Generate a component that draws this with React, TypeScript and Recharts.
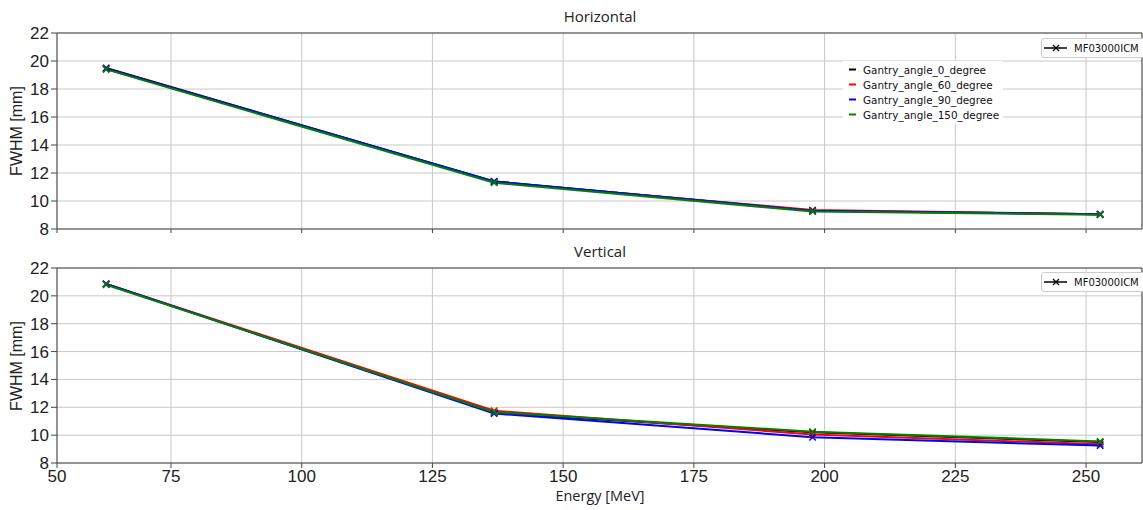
import React from 'react';
import { LineChart, Line, XAxis, YAxis, CartesianGrid, ReferenceArea } from 'recharts';

// beam energies (x) shared by all series
const energies = [62.6, 136.8, 197.7, 252.7];

const angleNames = ['Gantry_angle_0_degree', 'Gantry_angle_60_degree', 'Gantry_angle_90_degree', 'Gantry_angle_150_degree'];
const angleColors = ['#000000', '#ff0000', '#0000ff', '#008000'];

// Horizontal FWHM [mm]
const horizAngle0 = [19.5, 11.4, 9.3, 9.05];
const horizAngle60 = [19.45, 11.35, 9.36, 9.05];
const horizAngle90 = [19.45, 11.4, 9.3, 9.05];
const horizAngle150 = [19.4, 11.3, 9.25, 9.02];

// Vertical FWHM [mm]
const vertAngle0 = [20.85, 11.6, 10.2, 9.5];
const vertAngle60 = [20.85, 11.75, 10.05, 9.35];
const vertAngle90 = [20.85, 11.55, 9.85, 9.25];
const vertAngle150 = [20.8, 11.65, 10.25, 9.55];

const xMin = 53.2;
const xMax = 260.7;
const xTicks = [xMin, 75, 100, 125, 150, 175, 200, 225, 250];
const yTicks = [8, 10, 12, 14, 16, 18, 20, 22];

const keys = ['a0', 'a60', 'a90', 'a150'];

const buildRows = (series: number[][]) =>
  energies.map((e, i) => {
    const row: Record<string, number> = { energy: e };
    series.forEach((s, j) => (row[keys[j]] = s[i]));
    return row;
  });

const horizRows = buildRows([horizAngle0, horizAngle60, horizAngle90, horizAngle150]);
const vertRows = buildRows([vertAngle0, vertAngle60, vertAngle90, vertAngle150]);

const arial = 'Liberation Sans, Arial, sans-serif';
const tickFont = { fontFamily: arial, fontSize: 17, fill: '#222' };
const legendFont = "'DejaVu Sans', sans-serif";
const labelFont = "'Open Sans', sans-serif";

const crossDot = (color: string) => (props: any) => {
  const { cx, cy, index } = props;
  if (cx == null || cy == null) return <g key={`${color}-${index}`} />;
  const s = 3.2;
  return (
    <path
      key={`${color}-${index}`}
      d={`M${cx - s},${cy - s}L${cx + s},${cy + s}M${cx - s},${cy + s}L${cx + s},${cy - s}`}
      stroke={color}
      strokeWidth={1.5}
      fill="none"
    />
  );
};

const IcmLegend = ({ top }: { top: number }) => (
  <div
    style={{
      position: 'absolute', left: 1041, top, width: 110, height: 18,
      background: '#fff', border: '1px solid #ccc', borderRadius: 3,
      display: 'flex', alignItems: 'center', fontFamily: legendFont, fontSize: 10, color: '#111',
      whiteSpace: 'nowrap',
    }}
  >
    <svg width={32} height={18} style={{ flexShrink: 0 }}>
      <line x1={2} y1={9} x2={25} y2={9} stroke="#000" strokeWidth={1.5} />
      <path d="M11,6L17,12M11,12L17,6" stroke="#000" strokeWidth={1.3} />
    </svg>
    <span>MF03000ICM</span>
  </div>
);

const AngleLegend = () => (
  <div
    style={{
      position: 'absolute', left: 843, top: 61, width: 160, padding: '1px 0',
      background: '#fff', fontFamily: legendFont, fontSize: 10.4, color: '#111', whiteSpace: 'nowrap',
    }}
  >
    {angleNames.map((name, i) => (
      <div key={name} style={{ display: 'flex', alignItems: 'center', height: 15 }}>
        <svg width={20} height={15} style={{ flexShrink: 0 }}>
          <line x1={6} y1={7.5} x2={13} y2={7.5} stroke={angleColors[i]} strokeWidth={2} />
        </svg>
        <span>{name}</span>
      </div>
    ))}
  </div>
);

interface PanelProps {
  title: string;
  rows: Record<string, number>[];
  top: number;
  height: number;
  axisHeight: number;
  showXLabels: boolean;
  showAngles: boolean;
}

const Panel: React.FC<PanelProps> = ({ title, rows, top, height, axisHeight, showXLabels, showAngles }) => (
  <div style={{ position: 'absolute', left: 0, top, width: 1143, height }}>
    <div
      style={{
        position: 'absolute', left: 57, width: 1086, top: 6, textAlign: 'center',
        fontFamily: labelFont, fontSize: 15, color: '#222',
      }}
    >
      {title}
    </div>
    <div
      style={{
        position: 'absolute', left: 17, top: 33 + (height - 33 - axisHeight) / 2, width: 0, height: 0,
      }}
    >
      <div
        style={{
          position: 'absolute', transform: 'translate(-50%, -50%) rotate(-90deg)', whiteSpace: 'nowrap',
          fontFamily: arial, fontSize: 16, color: '#222',
        }}
      >
        FWHM [mm]
      </div>
    </div>
    <LineChart width={1143} height={height} data={rows} margin={{ top: 33, right: 1, left: 0, bottom: 0 }}>
      <CartesianGrid stroke="#c8c8c8" strokeWidth={1} />
      <XAxis
        dataKey="energy"
        type="number"
        domain={[xMin, xMax]}
        ticks={xTicks}
        interval={0}
        allowDataOverflow
        height={axisHeight}
        axisLine={false}
        tickLine={{ stroke: '#444' }}
        tickSize={showXLabels ? 5 : 4}
        tickMargin={2}
        tick={tickFont}
        tickFormatter={(v: number) => (!showXLabels ? '' : v === xMin ? '50' : String(v))}
      />
      <YAxis
        type="number"
        domain={[8, 22]}
        ticks={yTicks}
        interval={0}
        width={57}
        axisLine={false}
        tickLine={{ stroke: '#444' }}
        tickSize={6}
        tickMargin={2}
        tick={tickFont}
      />
      <ReferenceArea x1={xMin} x2={xMax} y1={8} y2={22} fill="none" stroke="#444" strokeWidth={1} ifOverflow="visible" />
      {keys.map((k, i) => (
        <Line
          key={k}
          dataKey={k}
          name={angleNames[i]}
          stroke={angleColors[i]}
          strokeWidth={2}
          dot={crossDot(angleColors[i])}
          activeDot={false}
          isAnimationActive={false}
        />
      ))}
    </LineChart>
    <IcmLegend top={showAngles ? 38 : 37} />
    {showAngles && <AngleLegend />}
  </div>
);

export default function App() {
  return (
    <div style={{ position: 'fixed', left: 0, top: 0, width: 1143, height: 510, background: '#fff', overflow: 'hidden' }}>
      <Panel title="Horizontal" rows={horizRows} top={0} height={245} axisHeight={16} showXLabels={false} showAngles />
      <Panel title="Vertical" rows={vertRows} top={235} height={275} axisHeight={47} showXLabels showAngles={false} />
      <div
        style={{
          position: 'absolute', left: 57, width: 1086, top: 486, textAlign: 'center',
          fontFamily: labelFont, fontSize: 14.5, color: '#222',
        }}
      >
        Energy [MeV]
      </div>
    </div>
  );
}
